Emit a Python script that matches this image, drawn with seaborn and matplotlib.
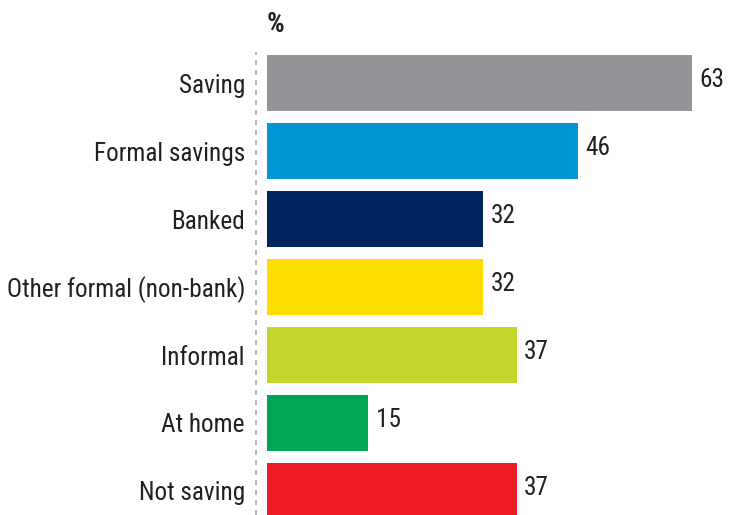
import matplotlib
matplotlib.use("Agg")
import matplotlib.pyplot as plt
import seaborn as sns
import pandas as pd

categories = ["Saving", "Formal savings", "Banked", "Other formal (non-bank)",
              "Informal", "At home", "Not saving"]
values = [63, 46, 32, 32, 37, 15, 37]
colors = ["#939598", "#0095D3", "#00245D", "#FFDD00", "#C4D62E", "#00A651", "#ED1C24"]

sns.set_theme(style="white")
plt.rcParams["font.family"] = ["Roboto Condensed", "DejaVu Sans"]
text_color = "#231F20"

df = pd.DataFrame({"category": categories, "value": values})

W, H = 730, 515
fig = plt.figure(figsize=(W / 100, H / 100), dpi=100)
ax_left, ax_top = 256, 52
ax = fig.add_axes([ax_left / W, 0, (W - ax_left) / W, (H - ax_top) / H])

sns.barplot(data=df, x="value", y="category", hue="category", palette=colors,
            order=categories, hue_order=categories, legend=False,
            width=0.82, saturation=1, linewidth=0, ax=ax)

px_per_unit = 6.75
xmin = -11 / px_per_unit
ax.set_xlim(xmin, xmin + (W - ax_left) / px_per_unit)
ax.set_ylim(6.353, -0.456)

for i, v in enumerate(values):
    ax.text(v + 1.1, i - 0.04, f"{v}", va="center", ha="left", fontsize=18.2, color=text_color)

ax.axvline(xmin, color="#A7A9AC", linestyle=(0, (3, 3)), linewidth=1.2, clip_on=False)

for s in ax.spines.values():
    s.set_visible(False)
ax.set_xticks([])
ax.set_xlabel("")
ax.set_ylabel("")
ax.tick_params(axis="y", length=0, pad=8, labelsize=18.2, labelcolor=text_color)

fig.text(267 / W, 1 - 25 / H, "%", fontsize=20, fontweight="bold", color=text_color,
         ha="left", va="center")

fig.savefig("out.png", dpi=100)
